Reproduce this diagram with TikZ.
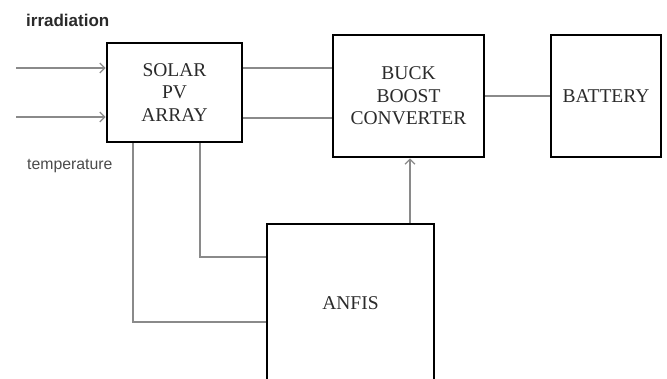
\documentclass[tikz,border=0pt]{standalone}
\usepackage{fontspec}
\setmainfont{Liberation Serif}
\newfontfamily\labfont{Liberation Sans}
\usetikzlibrary{arrows.meta}
\definecolor{wire}{HTML}{8A8A8A}
\definecolor{ink}{HTML}{2A2A2A}
\tikzset{
  blockbox/.style={draw=black, line width=2.6pt, fill=none, inner sep=0pt, align=center,
    text=ink, font=\fontsize{19.5}{22.5}\selectfont},
  wireline/.style={draw=wire, line width=1.6pt},
  wirearrow/.style={wireline, -{Straight Barb[length=5pt,width=10pt,line width=1.3pt]}},
  sidelabel/.style={text=ink, inner sep=0pt, anchor=west}
}
\begin{document}
\begin{tikzpicture}[x=1pt,y=-1pt]
\useasboundingbox (0,0) rectangle (667,378);
\clip (0,0) rectangle (667,378);
% blocks
\node[blockbox, minimum width=135pt, minimum height=99pt] (solar) at (174.5,92.5) {SOLAR\\PV\\ARRAY};
\node[blockbox, minimum width=151pt, minimum height=122pt] (buck) at (408.5,96) {BUCK\\BOOST\\CONVERTER};
\node[blockbox, minimum width=110pt, minimum height=122pt] (batt) at (606,96) {BATTERY};
\node[blockbox, minimum width=167pt, minimum height=158pt] (anfis) at (350.5,303) {ANFIS};
% labels
\node[sidelabel, font=\labfont\fontsize{17}{19}\selectfont\bfseries] (irr) at (26,20) {irradiation};
\node[sidelabel, font=\labfont\fontsize{15.8}{17}\selectfont, text=ink!85] (temp) at (27,166) {temperature};
% free ends of the inputs
\coordinate (in1) at (16,68);
\coordinate (in2) at (16,117);
% inputs
\draw[wirearrow] (in1) -- (solar.west |- in1);
\draw[wirearrow] (in2) -- (solar.west |- in2);
% solar to converter
\draw[wireline] ([yshift=24.5pt]solar.east) -- ([yshift=24.5pt]solar.east -| buck.west);
\draw[wireline] ([yshift=-25.5pt]solar.east) -- ([yshift=-25.5pt]solar.east -| buck.west);
% converter to battery
\draw[wireline] (buck.east) -- (batt.west);
% solar to anfis
\draw[wireline] ([xshift=25.5pt]solar.south) |- ([yshift=46pt]anfis.west);
\draw[wireline] ([xshift=-41.5pt]solar.south) |- ([yshift=-19pt]anfis.west);
% anfis to converter
\draw[wirearrow] ([xshift=59.5pt]anfis.north) -- ([xshift=59.5pt]anfis.north |- buck.south);
\end{tikzpicture}
\end{document}
